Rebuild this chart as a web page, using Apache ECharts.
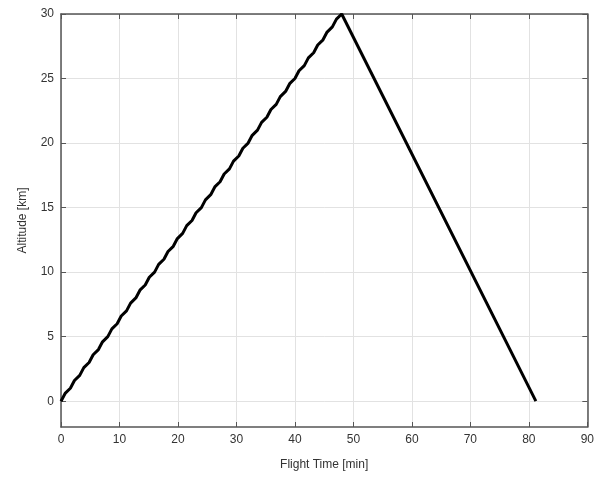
<!DOCTYPE html>
<html>
<head>
<meta charset="utf-8">
<script src="https://cdn.jsdelivr.net/npm/echarts@6/dist/echarts.min.js"></script>
<style>
  html, body { margin: 0; padding: 0; background: #fff; }
  #main { width: 597px; height: 479px; }
</style>
</head>
<body>
<div id="main"></div>
<script>
// flight time [min] and altitude [km]
var flightTime = [0, 0.7, 1.6, 2.3, 3.2, 3.9, 4.8, 5.5, 6.4, 7.1, 8.0, 8.7, 9.6, 10.3,
    11.2, 11.9, 12.8, 13.5, 14.4, 15.1, 16.0, 16.7, 17.6, 18.3, 19.2, 19.9, 20.8, 21.5,
    22.4, 23.1, 24.0, 24.7, 25.6, 26.3, 27.2, 27.9, 28.8, 29.5, 30.4, 31.1, 32.0, 32.7,
    33.6, 34.3, 35.2, 35.9, 36.8, 37.5, 38.4, 39.1, 40.0, 40.7, 41.6, 42.3, 43.2, 43.9,
    44.8, 45.5, 46.4, 47.1, 48.0, 81.2];
var altitude = [0, 0.6, 1, 1.6, 2, 2.6, 3, 3.6, 4, 4.6, 5, 5.6, 6, 6.6,
    7, 7.6, 8, 8.6, 9, 9.6, 10, 10.6, 11, 11.6, 12, 12.6, 13, 13.6,
    14, 14.6, 15, 15.6, 16, 16.6, 17, 17.6, 18, 18.6, 19, 19.6, 20, 20.6,
    21, 21.6, 22, 22.6, 23, 23.6, 24, 24.6, 25, 25.6, 26, 26.6, 27, 27.6,
    28, 28.6, 29, 29.6, 30, 0];

var xTickValues = [0, 10, 20, 30, 40, 50, 60, 70, 80, 90];
var yTickValues = [0, 5, 10, 15, 20, 25, 30];
var yRange = [-2, 30];

var points = [];
for (var i = 0; i < flightTime.length; i++) {
    points.push([flightTime[i], altitude[i]]);
}

var font = 'Liberation Sans, Arial, sans-serif';
var axisColor = '#555';

function xAxisOpt(pos, showLabel) {
    return {
        type: 'value', position: pos,
        min: xTickValues[0], max: xTickValues[xTickValues.length - 1], interval: 10,
        name: showLabel ? 'Flight Time [min]' : '',
        nameLocation: 'middle', nameGap: 32,
        nameTextStyle: {color: '#333', fontSize: 12, fontFamily: font},
        axisLine: {show: true, onZero: false, lineStyle: {color: axisColor, width: 1.5}},
        axisTick: {show: true, inside: true, length: 5, lineStyle: {color: axisColor}},
        axisLabel: {show: showLabel, color: '#333', fontSize: 12, fontFamily: font, margin: 7},
        splitLine: {show: showLabel, lineStyle: {color: '#e2e2e2', width: 1}}
    };
}

function yAxisOpt(pos, showLabel) {
    return {
        type: 'value', position: pos,
        min: yRange[0], max: yRange[1],
        name: showLabel ? 'Altitude [km]' : '',
        nameLocation: 'middle', nameGap: 32, nameRotate: 90,
        nameTextStyle: {color: '#333', fontSize: 12, fontFamily: font},
        axisLine: {show: true, onZero: false, lineStyle: {color: axisColor, width: 1.5}},
        axisTick: {show: true, inside: true, length: 5, customValues: yTickValues,
            lineStyle: {color: axisColor}},
        axisLabel: {show: showLabel, color: '#333', fontSize: 12, fontFamily: font, margin: 7,
            customValues: yTickValues},
        splitLine: {show: showLabel, lineStyle: {color: '#e2e2e2', width: 1}}
    };
}

var myChart = echarts.init(document.getElementById('main'));
myChart.setOption({
    animation: false,
    backgroundColor: '#fff',
    grid: {left: 61, right: 9, top: 14, bottom: 52},
    xAxis: [xAxisOpt('bottom', true), xAxisOpt('top', false)],
    yAxis: [yAxisOpt('left', true), yAxisOpt('right', false)],
    series: [{
        type: 'line',
        data: points,
        showSymbol: false,
        lineStyle: {color: '#000', width: 3},
        xAxisIndex: 0, yAxisIndex: 0
    }]
});
</script>
</body>
</html>
